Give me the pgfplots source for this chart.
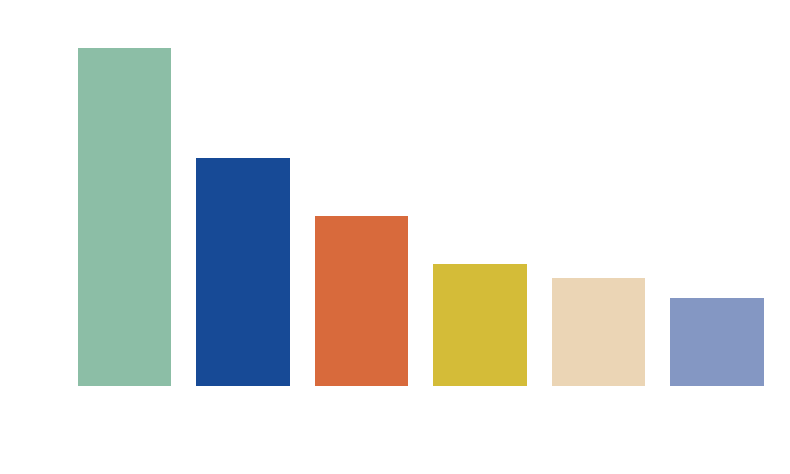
\documentclass[border=0pt]{standalone}
\usepackage{pgfplots}
\pgfplotsset{compat=1.18}
\definecolor{c1}{HTML}{8CBEA6}
\definecolor{c2}{HTML}{174A96}
\definecolor{c3}{HTML}{D86A3C}
\definecolor{c4}{HTML}{D4BC38}
\definecolor{c5}{HTML}{EBD5B5}
\definecolor{c6}{HTML}{8497C3}
\begin{document}
\begin{tikzpicture}
\path[use as bounding box] (0,0) rectangle (790pt,474pt);
\begin{axis}[at={(65.25pt,88pt)},anchor=south west,scale only axis,
 width=711pt,height=338pt,xmin=-0.5,xmax=5.5,ymin=0,ymax=338,
 hide axis,clip=false,ybar,bar width=93.5pt,
 every axis plot/.append style={bar shift=0pt,draw=none}]
\addplot[fill=c1] coordinates {(0,338)};
\addplot[fill=c2] coordinates {(1,228)};
\addplot[fill=c3] coordinates {(2,170)};
\addplot[fill=c4] coordinates {(3,122)};
\addplot[fill=c5] coordinates {(4,108)};
\addplot[fill=c6] coordinates {(5,88)};
\end{axis}
\end{tikzpicture}
\end{document}
